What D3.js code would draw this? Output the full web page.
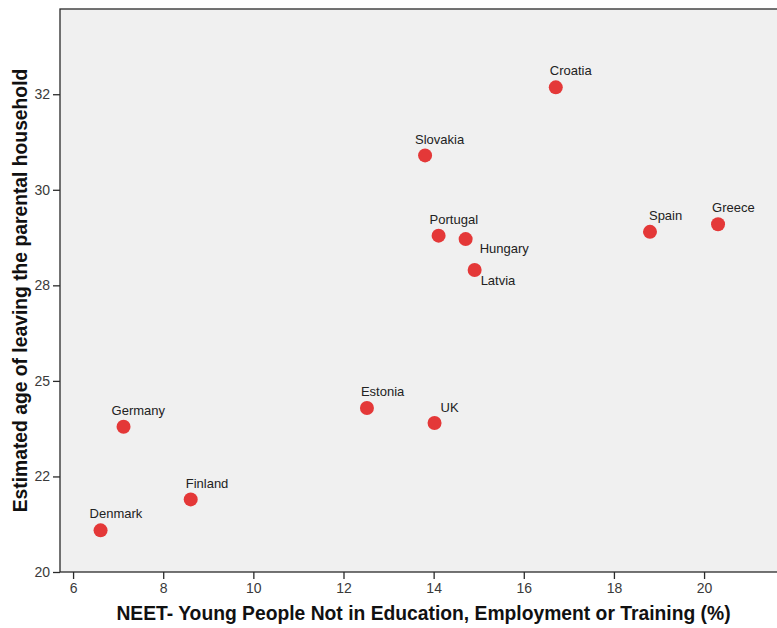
<!DOCTYPE html>
<meta charset="utf-8">
<title>NEET vs age of leaving home</title>
<script src="https://d3js.org/d3.v7.min.js"></script>
<style>
  body { margin: 0; background: #fff; }
  text { font-family: "Liberation Sans", Arial, sans-serif; }
</style>
<div id="chart"></div>
<script>
  // data
  var countries = ["Denmark", "Germany", "Finland", "Estonia", "UK", "Slovakia",
    "Portugal", "Hungary", "Latvia", "Croatia", "Spain", "Greece"];
  var neet = [6.61, 7.12, 8.61, 12.52, 14.02, 13.81, 14.11, 14.71, 14.91, 16.71, 18.80, 20.31];
  var leaveAge = [21.09, 23.80, 21.90, 24.29, 23.90, 30.90, 28.80, 28.71, 27.90, 32.68, 28.90, 29.10];

  // axis ticks
  var xTicks = [6, 8, 10, 12, 14, 16, 18, 20];
  var yTicks = [20, 22.5, 25, 27.5, 30, 32.5];
  var yTickLabels = ["20", "22", "25", "28", "30", "32"];

  // label nudges (layout only): left edge and baseline offset from the dot
  var labelNudge = {
    Denmark: [-11, -12], Germany: [-12, -12], Finland: [-5, -11], Estonia: [-6, -12],
    UK: [6, -11], Slovakia: [-10, -11], Portugal: [-9, -12], Hungary: [14, 14],
    Latvia: [6, 15], Croatia: [-6, -12], Spain: [-1, -12], Greece: [-6, -12]
  };

  var W = 777, H = 628;
  var margin = { top: 9, right: -10, bottom: 56, left: 60 };

  var svg = d3.select("#chart").append("svg")
    .attr("width", W)
    .attr("height", H);

  var x = d3.scaleLinear()
    .domain([5.71, 21.84])
    .range([margin.left, W - margin.right]);

  var y = d3.scaleLinear()
    .domain([20, 34.73])
    .range([H - margin.bottom, margin.top]);

  // plot background
  svg.append("rect")
    .attr("x", margin.left)
    .attr("y", margin.top)
    .attr("width", W - margin.right - margin.left)
    .attr("height", H - margin.bottom - margin.top)
    .attr("fill", "#f0f0f0")
    .attr("stroke", "#2a2a2a")
    .attr("stroke-width", 1.3);

  // x axis
  svg.append("g")
    .attr("transform", "translate(0," + (H - margin.bottom) + ")")
    .call(d3.axisBottom(x).tickValues(xTicks).tickSize(7).tickSizeOuter(0).tickPadding(4));

  // y axis
  svg.append("g")
    .attr("transform", "translate(" + margin.left + ",0)")
    .call(d3.axisLeft(y).tickValues(yTicks).tickSize(7).tickSizeOuter(0).tickPadding(3)
      .tickFormat(function (d, i) { return yTickLabels[i]; }));

  svg.selectAll(".domain").remove();
  svg.selectAll(".tick line").attr("stroke", "#2a2a2a").attr("stroke-width", 1.3);
  svg.selectAll(".tick text")
    .attr("fill", "#3a3a3a")
    .style("font-size", "14px")
    .style("font-family", "'Liberation Sans', Arial, sans-serif");

  // axis titles
  svg.append("text")
    .attr("x", 423.5)
    .attr("y", 620)
    .attr("text-anchor", "middle")
    .attr("font-weight", "bold")
    .attr("font-size", "19.3px")
    .attr("fill", "#111")
    .text("NEET- Young People Not in Education, Employment or Training (%)");

  svg.append("text")
    .attr("transform", "translate(27," + (margin.top + H - margin.bottom) / 2 + ") rotate(-90)")
    .attr("text-anchor", "middle")
    .attr("font-weight", "bold")
    .attr("font-size", "19.3px")
    .attr("fill", "#111")
    .text("Estimated age of leaving the parental household");

  var points = countries.map(function (c, i) {
    return { name: c, x: neet[i], y: leaveAge[i] };
  });

  // dots
  svg.append("g").selectAll("circle")
    .data(points)
    .enter().append("circle")
    .attr("cx", function (d) { return x(d.x); })
    .attr("cy", function (d) { return y(d.y); })
    .attr("r", 7)
    .attr("fill", "#e43838");

  // labels
  svg.append("g").selectAll("text")
    .data(points)
    .enter().append("text")
    .attr("x", function (d) { return x(d.x) + labelNudge[d.name][0]; })
    .attr("y", function (d) { return y(d.y) + labelNudge[d.name][1]; })
    .attr("font-size", "13px")
    .attr("fill", "#222")
    .text(function (d) { return d.name; });
</script>
